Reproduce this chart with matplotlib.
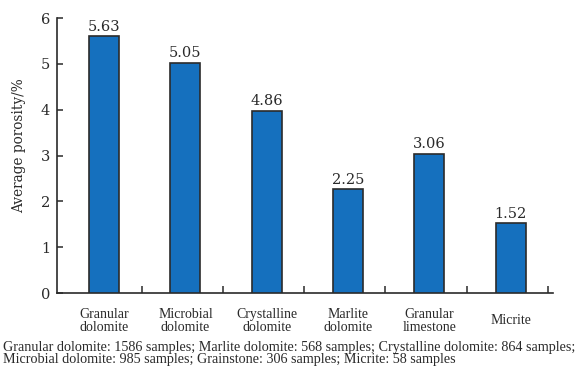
import matplotlib
matplotlib.use('Agg')
import matplotlib.pyplot as plt
import numpy as np

# data
rock_types = ['Granular\ndolomite', 'Microbial\ndolomite', 'Crystalline\ndolomite',
              'Marlite\ndolomite', 'Granular\nlimestone', 'Micrite']
bar_heights = [5.60, 5.02, 3.97, 2.26, 3.03, 1.52]      # drawn heights
value_labels = ['5.63', '5.05', '4.86', '2.25', '3.06', '1.52']   # printed values
yticks = [0, 1, 2, 3, 4, 5, 6]
note_lines = ['Granular dolomite: 1586 samples; Marlite dolomite: 568 samples; Crystalline dolomite: 864 samples;',
              'Microbial dolomite: 985 samples; Grainstone: 306 samples; Micrite: 58 samples']

num_font = 'DejaVu Serif'
txt_font = 'Liberation Serif'
ink = '#2a2a2a'

fig = plt.figure(figsize=(5.79, 3.67), dpi=100)
ax = fig.add_axes([0.0984, 0.2016, 0.8567, 0.7493])

x = np.arange(len(rock_types))
ax.bar(x, bar_heights, width=0.37, color='#1570be', edgecolor='#2b2b2b', linewidth=1.2, zorder=3)

for xi, h, lab in zip(x, bar_heights, value_labels):
  ax.text(xi, h + 0.06, lab, ha='center', va='bottom', fontsize=10.5,
          family=num_font, color=ink)

ax.set_xlim(-0.58, 5.52)
ax.set_ylim(0, 6)
ax.set_yticks(yticks)
ax.set_yticklabels([str(t) for t in yticks], family=num_font, fontsize=10.5, color=ink)
ax.tick_params(axis='y', direction='in', length=4.5, width=1.1, color=ink, pad=5)

# boundary ticks on the x axis, labels placed by hand under each bar
ax.set_xticks(np.arange(len(rock_types)) + 0.46)
ax.set_xticklabels([])
ax.tick_params(axis='x', direction='in', length=5, width=1.1, color=ink)
for xi, lab in zip(x, rock_types):
  ax.text(xi, -0.6, lab, ha='center', va='center', fontsize=10, family=txt_font,
          color=ink, linespacing=1.0, clip_on=False)

ax.set_ylabel('Average porosity/%', family=num_font, fontsize=9.8, color=ink)
ax.yaxis.set_label_coords(-0.062, 0.535)

for s in ['top', 'right']:
  ax.spines[s].set_visible(False)
for s in ['left', 'bottom']:
  ax.spines[s].set_linewidth(1.2)
  ax.spines[s].set_color(ink)

fig.text(0.005, 1 - 351 / 367, note_lines[0], ha='left', va='baseline', fontsize=10.2,
         family=txt_font, color=ink)
fig.text(0.005, 1 - 363 / 367, note_lines[1], ha='left', va='baseline', fontsize=10.2,
         family=txt_font, color=ink)

fig.savefig('out.png', dpi=100)
